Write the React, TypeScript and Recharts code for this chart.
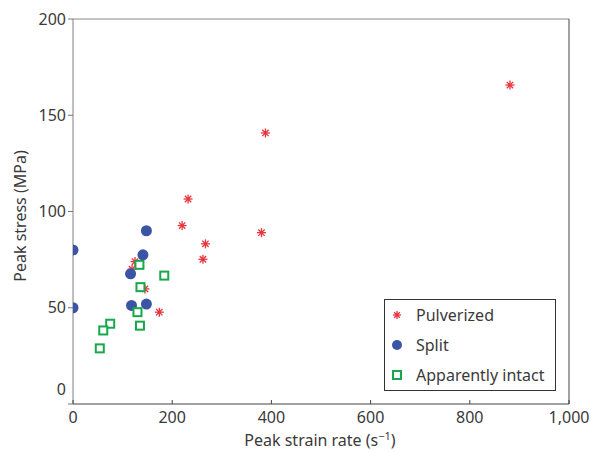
import React from 'react';
import {
  ScatterChart, Scatter, XAxis, YAxis, ReferenceLine, Label
} from 'recharts';

// Peak strain rate (s^-1) / peak stress (MPa) per sample group
const pulverizedX = [881, 388, 232, 220, 380, 267, 262, 125, 119, 145, 174];
const pulverizedY = [165.7, 140.8, 106.5, 92.7, 89, 83.2, 75.2, 74, 70, 59.8, 47.7];

const splitX = [0, 0, 148, 141, 116, 118, 148];
const splitY = [80, 50, 90, 77.5, 67.6, 51.2, 51.9];

const intactX = [134, 184, 136, 130, 75, 61, 135, 54];
const intactY = [72.3, 66.7, 60.7, 47.7, 41.7, 38.2, 40.7, 28.9];

const xTicks = [0, 200, 400, 600, 800, 1000];
const yTicks = [0, 50, 100, 150, 200];

const seriesNames = ['Pulverized', 'Split', 'Apparently intact'];

const RED = '#e8323c';
const BLUE = '#3a55a6';
const GREEN = '#17a84b';
const TEXT = '#3a3a3a';
const FONT = '"Noto Sans", sans-serif';

const toPoints = (xs: number[], ys: number[]) => xs.map((x, i) => ({ x, y: ys[i] }));

const pulverized = toPoints(pulverizedX, pulverizedY);
const split = toPoints(splitX, splitY);
const intact = toPoints(intactX, intactY);

const Star = ({ cx, cy, r = 4.5 }: any) => {
  const arms = [0, 45, 90, 135].map(a => {
    const rad = (a * Math.PI) / 180;
    return (
      <line
        key={a}
        x1={cx - r * Math.cos(rad)} y1={cy - r * Math.sin(rad)}
        x2={cx + r * Math.cos(rad)} y2={cy + r * Math.sin(rad)}
        stroke={RED} strokeWidth={1.3}
      />
    );
  });
  return <g>{arms}<circle cx={cx} cy={cy} r={1.4} fill={RED} /></g>;
};

const Dot = ({ cx, cy }: any) => <circle cx={cx} cy={cy} r={5.5} fill={BLUE} />;

const Box = ({ cx, cy }: any) => (
  <rect x={cx - 4} y={cy - 4} width={8} height={8} fill="#fff" stroke={GREEN} strokeWidth={2} />
);

const XTick = ({ x, y, payload }: any) => (
  <g>
    <line x1={x} y1={y} x2={x} y2={y - 4} stroke="#444" strokeWidth={1} />
    <text x={x} y={y + 19} textAnchor="middle" fontSize={16} fill={TEXT} fontFamily={FONT}>
      {payload.value === 1000 ? '1,000' : payload.value}
    </text>
  </g>
);

const YTick = ({ x, y, payload }: any) => (
  <g>
    <line x1={x - 5} y1={y} x2={x} y2={y} stroke="#777" strokeWidth={1} />
    <text
      x={x - 7} y={payload.value === 0 ? y - 15 : y} dy="0.35em"
      textAnchor="end" fontSize={16} fill={TEXT} fontFamily={FONT}
    >
      {payload.value}
    </text>
  </g>
);

const legendIcons = [
  <svg width={12} height={12}><Star cx={6} cy={6} r={4} /></svg>,
  <svg width={12} height={12}><circle cx={6} cy={6} r={5} fill={BLUE} /></svg>,
  <svg width={12} height={12}><rect x={2} y={2} width={8} height={8} fill="#fff" stroke={GREEN} strokeWidth={2} /></svg>,
];

const LegendBox = () => (
  <div
    style={{
      position: 'absolute', left: 384, top: 299, width: 170, height: 90,
      border: '1px solid #333', background: '#fff',
      fontFamily: FONT, fontSize: 16, color: TEXT,
    }}
  >
    {seriesNames.map(name => (
      <div key={name} style={{ display: 'flex', alignItems: 'center', height: 30 }}>
        <div style={{ width: 12, height: 12, marginLeft: 6, marginRight: 13, lineHeight: 0 }}>
          {legendIcons[seriesNames.indexOf(name)]}
        </div>
        <span>{name}</span>
      </div>
    ))}
  </div>
);

const App: React.FC = () => {
  return (
    <div style={{ width: 591, height: 452, position: 'relative', background: '#fff' }}>
      <style>{'body{margin:0}'}</style>
      <ScatterChart width={591} height={452} margin={{ top: 19, right: 22, bottom: 0, left: 0 }}>
        <XAxis
          type="number" dataKey="x" domain={[0, 1000]} ticks={xTicks}
          allowDataOverflow height={48}
          stroke="#444" tickSize={0} tickMargin={0} tickLine={false}
          tick={<XTick />}
        >
          <Label content={() => (
            <text x={320} y={446} textAnchor="middle" fontSize={16} fill={TEXT} fontFamily={FONT}>
              Peak strain rate (s<tspan dy={-6} fontSize={11}>−1</tspan><tspan dy={6}>)</tspan>
            </text>
          )} />
        </XAxis>
        <YAxis
          type="number" dataKey="y" domain={[0, 200]} ticks={yTicks}
          allowDataOverflow width={73}
          stroke="#808080" tickSize={0} tickMargin={0} tickLine={false}
          tick={<YTick />}
        >
          <Label content={() => (
            <text x={20} y={216} transform="rotate(-90 20 216)" textAnchor="middle" dy="0.35em"
              fontSize={16} fill={TEXT} fontFamily={FONT}>
              Peak stress (MPa)
            </text>
          )} />
        </YAxis>
        <ReferenceLine y={200} stroke="#888" strokeWidth={1} />
        <ReferenceLine x={1000} stroke="#444" strokeWidth={1} />
        <Scatter name={seriesNames[0]} data={pulverized} shape={<Star />} isAnimationActive={false} />
        <Scatter name={seriesNames[1]} data={split} shape={<Dot />} isAnimationActive={false} />
        <Scatter name={seriesNames[2]} data={intact} shape={<Box />} isAnimationActive={false} />
      </ScatterChart>
      <LegendBox />
    </div>
  );
};

export default App;
